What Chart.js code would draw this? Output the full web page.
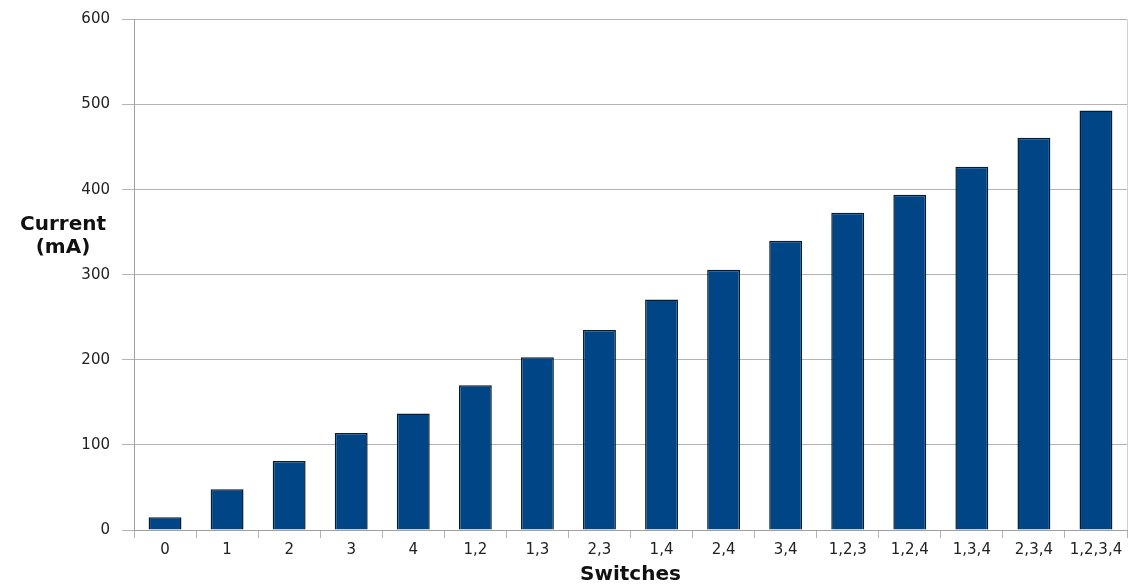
<!DOCTYPE html>
<html>
<head>
<meta charset="utf-8">
<script src="https://cdn.jsdelivr.net/npm/chart.js@4/dist/chart.umd.min.js"></script>
<style>
  html, body { margin: 0; padding: 0; background: #fff; }
  #wrap { width: 1131px; height: 587px; }
</style>
</head>
<body>
<div id="wrap"><canvas id="myChart"></canvas></div>
<script>
// switch combinations on the x axis
var switches = ['0', '1', '2', '3', '4', '1,2', '1,3', '2,3', '1,4', '2,4', '3,4', '1,2,3', '1,2,4', '1,3,4', '2,3,4', '1,2,3,4'];
var current = [15, 48, 81, 114, 137, 170, 203, 235, 271, 306, 340, 373, 394, 427, 461, 493];
var yTicks = [0, 100, 200, 300, 400, 500, 600];
var xTitle = 'Switches';
var yTitle = ['Current', '(mA)'];

var tickFont = { family: 'DejaVu Sans', size: 15, lineHeight: 1 };

// draws the axis titles (y title is horizontal, so Chart.js can't do it) and the right frame line
var titlesPlugin = {
    id: 'titles',
    afterDraw: function(chart) {
        var ctx = chart.ctx;
        var area = chart.chartArea;
        ctx.save();
        ctx.strokeStyle = '#d0d0d0';
        ctx.lineWidth = 1;
        ctx.beginPath();
        ctx.moveTo(area.right + 0.5, area.top);
        ctx.lineTo(area.right + 0.5, area.bottom);
        ctx.stroke();

        ctx.fillStyle = '#111';
        ctx.font = 'bold 20px "DejaVu Sans"';
        ctx.textAlign = 'center';
        ctx.textBaseline = 'middle';
        ctx.fillText(xTitle, (area.left + area.right) / 2, 575);
        ctx.fillText(yTitle[0], 63, 225);
        ctx.fillText(yTitle[1], 63, 248);
        ctx.restore();
    }
};

var context = document.getElementById('myChart');
var myBarChart = new Chart(context, {
    type: 'bar',
    data: {
        labels: switches,
        datasets: [{
            label: 'Current',
            data: current,
            backgroundColor: '#004586',
            borderColor: '#061c33',
            borderWidth: 1.5,
            categoryPercentage: 1,
            barPercentage: 0.53
        }]
    },
    options: {
        responsive: true,
        maintainAspectRatio: false,
        animation: false,
        layout: { padding: { top: 18, right: 4, left: 0, bottom: 0 } },
        plugins: {
            legend: { display: false },
            tooltip: { enabled: false }
        },
        scales: {
            x: {
                offset: true,
                grid: {
                    offset: true,
                    drawOnChartArea: false,
                    drawTicks: true,
                    tickLength: 8,
                    color: '#b3b3b3'
                },
                border: { color: '#a0a0a0' },
                ticks: {
                    font: tickFont,
                    color: '#222',
                    padding: 5,
                    maxRotation: 0,
                    autoSkip: false
                },
                afterFit: function(scale) { scale.height = 57; }
            },
            y: {
                min: yTicks[0],
                max: yTicks[yTicks.length - 1],
                afterBuildTicks: function(scale) {
                    scale.ticks = yTicks.map(function(v) { return { value: v }; });
                },
                grid: {
                    color: '#b3b3b3',
                    tickLength: 12,
                    tickColor: '#b3b3b3'
                },
                border: { color: '#a0a0a0' },
                ticks: {
                    font: tickFont,
                    color: '#222',
                    padding: 12
                },
                afterFit: function(scale) { scale.width = 134; }
            }
        }
    },
    plugins: [titlesPlugin]
});
</script>
</body>
</html>
